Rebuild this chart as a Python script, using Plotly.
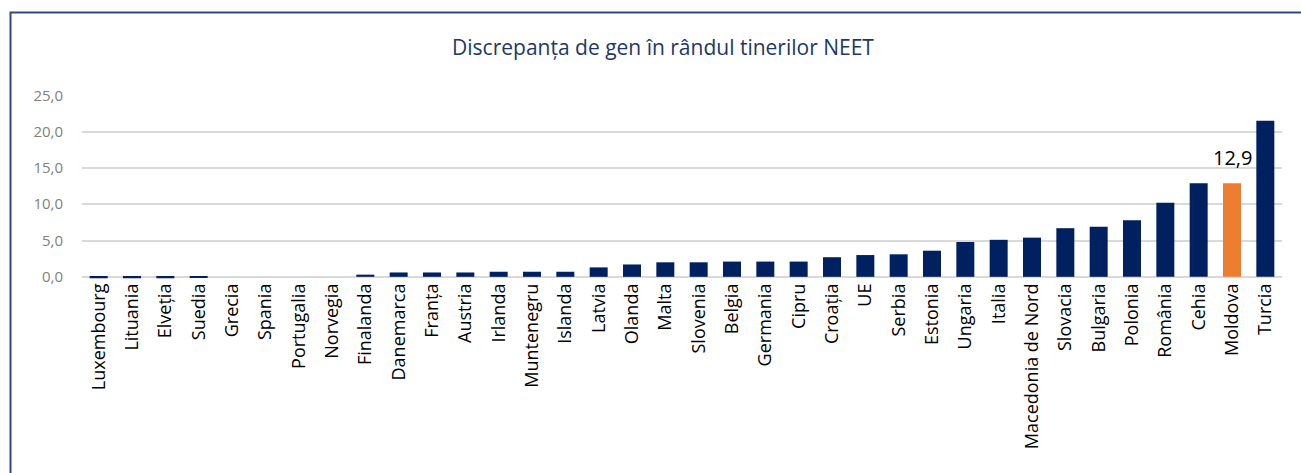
import plotly.graph_objects as go

categories = ["Luxembourg", "Lituania", "Elveția", "Suedia", "Grecia", "Spania", "Portugalia",
              "Norvegia", "Finalanda", "Danemarca", "Franța", "Austria", "Irlanda", "Muntenegru",
              "Islanda", "Latvia", "Olanda", "Malta", "Slovenia", "Belgia", "Germania", "Cipru",
              "Croația", "UE", "Serbia", "Estonia", "Ungaria", "Italia", "Macedonia de Nord",
              "Slovacia", "Bulgaria", "Polonia", "România", "Cehia", "Moldova", "Turcia"]
values = [-0.2, -0.2, -0.2, -0.1, 0.0, 0.0, 0.0,
          0.0, 0.3, 0.6, 0.6, 0.6, 0.7, 0.7,
          0.7, 1.3, 1.7, 2.0, 2.0, 2.1, 2.1, 2.1,
          2.7, 3.0, 3.1, 3.6, 4.8, 5.1, 5.4,
          6.7, 6.9, 7.8, 10.2, 12.9, 12.9, 21.5]
highlight = "Moldova"
label_text = "12,9"
title_text = "Discrepanța de gen în rândul tinerilor NEET"
y_ticks = [0, 5, 10, 15, 20, 25]

NAVY = "#002060"
ORANGE = "#ED7D31"
colors = [ORANGE if c == highlight else NAVY for c in categories]

W, H = 1301, 473
L, R, T, B = 82, 19, 95, 194
plot_w = W - L - R
plot_h = H - T - B

fig = go.Figure()
fig.add_trace(go.Bar(x=categories, y=values, marker=dict(color=colors, line=dict(width=0)),
                     showlegend=False, hoverinfo="x+y"))

hi_val = values[categories.index(highlight)]
fig.add_annotation(x=highlight, y=hi_val, text=label_text, showarrow=False,
                   yanchor="middle", yshift=26,
                   font=dict(family="Open Sans", size=20, color="#000000"))

def px_to_paper_x(px):
    return (px - L) / plot_w

def px_to_paper_y(py):
    return (H - B - py) / plot_h

fig.add_shape(type="rect", xref="paper", yref="paper",
              x0=px_to_paper_x(10.5), x1=px_to_paper_x(1320),
              y0=px_to_paper_y(500), y1=px_to_paper_y(12.5),
              line=dict(color="#2F4A7C", width=2), fillcolor="rgba(0,0,0,0)", layer="below")

fig.update_layout(
    width=W, height=H,
    margin=dict(l=L, r=R, t=T, b=B, autoexpand=False),
    paper_bgcolor="white", plot_bgcolor="white",
    separators=", ",
    bargap=0.46,
    title=dict(text=title_text, xref="container", yref="container",
               x=663 / W, y=1 - 47.5 / H, xanchor="center", yanchor="middle",
               font=dict(family="Open Sans", size=21, color="#203864")),
    xaxis=dict(tickangle=-90, showgrid=False, showline=False, ticks="",
               tickfont=dict(family="Open Sans", size=18, color="#000000")),
    yaxis=dict(range=[-0.3, 25.05], tickvals=y_ticks, tickformat=".1f",
               showgrid=True, gridcolor="#D9D9D9", gridwidth=1.5,
               zeroline=True, zerolinecolor="#D9D9D9", zerolinewidth=1.5,
               showline=False, ticks="", ticklabelstandoff=18,
               tickfont=dict(family="Open Sans", size=15, color="#7F7F7F")),
)

fig.write_html("out.html", config={"displayModeBar": False},
               post_script="document.body.style.margin='0';document.body.style.overflow='hidden';")
